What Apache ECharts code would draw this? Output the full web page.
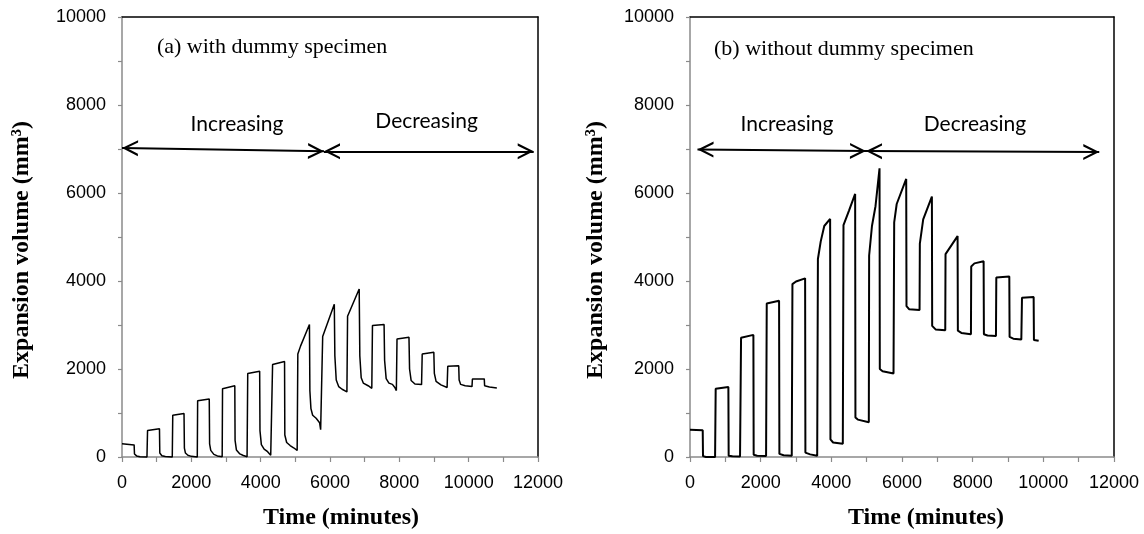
<!DOCTYPE html>
<html>
<head>
<meta charset="utf-8">
<script src="https://cdn.jsdelivr.net/npm/echarts@6/dist/echarts.min.js"></script>
<style>html,body{margin:0;padding:0;background:#fff}#c{width:1144px;height:534px}</style>
</head>
<body>
<div id="c"></div>
<script>
// ---- Data ----
var leftTime = [0,350,360,420,520,720, 737,1081,1090,1150,1250,1450, 1464,1789,1800,1830,1900,2000,2172,
  2182,2517,2527,2560,2650,2750,2890, 2900,3254,3262,3300,3400,3500,3608,
  3627,3971,3980,4020,4100,4200,4290,4325, 4344,4689,4697,4750,4850,4950,5053,
  5072,5150,5407,5420,5450,5500,5600,5700,5730,5770, 5789,6124,6140,6180,6250,6350,6488,
  6507,6842,6860,6900,6960,7100,7206, 7225,7560,7575,7620,7700,7800,7870,7914,
  7933,8278,8295,8340,8450,8641, 8660,8995,9010,9060,9200,9378,
  9397,9713,9725,9770,9900,10096, 10108,10450,10460,10600,10813];
var leftVolume = [300,275,70,25,8,0, 600,640,90,30,10,0, 950,990,200,90,40,15,0,
  1280,1320,300,150,60,25,5, 1550,1620,380,160,70,35,5,
  1900,1950,600,280,180,120,40,0, 2100,2170,500,330,260,210,150,
  2340,2520,3010,1500,1100,950,880,780,620,600, 2740,3472,2300,1750,1600,1540,1480,
  3200,3820,2300,1800,1680,1620,1560, 2990,3010,2200,1780,1680,1650,1580,1510,
  2680,2720,2000,1740,1660,1645, 2340,2380,1900,1720,1640,1580,
  2060,2075,1750,1650,1620,1600, 1771,1775,1620,1590,1570];

var rightTime = [0,360,368,450,710, 727,1086,1094,1200,1416, 1445,1794,1802,1900,2153,
  2172,2521,2530,2650,2880, 2899,3000,3258,3266,3400,3600,
  3620,3700,3800,3966,3975,4050,4325, 4344,4500,4674,4682,4750,5061,
  5070,5150,5250,5364,5372,5450,5760, 5779,5850,6119,6127,6200,6497,
  6505,6600,6846,6854,6950,7224, 7232,7573,7581,7680,7951,
  7959,8050,8310,8318,8420,8659, 8669,9037,9045,9150,9377, 9396,9726,9734,9868];
var rightVolume = [620,610,20,0,0, 1550,1590,30,15,10, 2710,2775,50,30,20,
  3490,3550,70,40,30, 3930,3990,4060,100,60,30,
  4500,4900,5250,5410,400,330,300, 5270,5600,5980,900,850,790,
  4580,5250,5700,6560,2000,1950,1900, 5330,5750,6320,3430,3360,3340,
  4850,5400,5920,2980,2900,2880, 4610,5020,2870,2820,2790,
  4330,4400,4450,2790,2760,2750, 4080,4100,2730,2690,2670, 3620,3635,2660,2640];

var xTicks = {min: 0, max: 12000, step: 1000, labelStep: 2000};
var yTicks = {min: 0, max: 10000, step: 1000, labelStep: 2000};

// annotation arrows in data coordinates: [x1,y1,x2,y2]
var leftArrows = [[0,7025,5827,6948],[5827,6948,11876,6948]];
var rightArrows = [[212,6991,4981,6952],[4981,6952,11583,6929]];

function pairs(xs, ys){ var o=[]; for(var i=0;i<xs.length;i++) o.push([xs[i], ys[i]]); return o; }

var chevron = 'path://M5,0 L5.01,0 L5,0.01 Z M5,10 L10,20 L8.5,20 L5,13 L1.5,20 L0,20 Z';

function arrowLines(arr){
  return arr.map(function(a){ return [{coord:[a[0],a[1]]},{coord:[a[2],a[3]]}]; });
}

var gray = '#8a8a8a';
var tickFont = '"Liberation Sans", Arial, sans-serif';
function xAxisMain(g){
  return {gridIndex:g, type:'value', min:xTicks.min, max:xTicks.max, interval:xTicks.step,
    axisLine:{show:true, onZero:false, lineStyle:{color:gray, width:1.5}},
    axisTick:{show:true, inside:false, length:5, lineStyle:{color:gray, width:1.2}},
    axisLabel:{color:'#000', fontFamily:tickFont, fontSize:18, margin:17,
      formatter:function(v){ return v % xTicks.labelStep === 0 ? String(v) : ''; }},
    splitLine:{show:false}};
}
function xAxisTop(g){
  return {gridIndex:g, type:'value', position:'top', min:xTicks.min, max:xTicks.max,
    axisLine:{show:true, onZero:false, lineStyle:{color:'#000', width:1.5}},
    axisTick:{show:false}, axisLabel:{show:false}, splitLine:{show:false}};
}
function yAxisMain(g){
  return {gridIndex:g, type:'value', min:yTicks.min, max:yTicks.max, interval:yTicks.step,
    axisLine:{show:true, onZero:false, lineStyle:{color:gray, width:1.5}},
    axisTick:{show:true, inside:false, length:4, lineStyle:{color:gray, width:1.2}},
    axisLabel:{color:'#000', fontFamily:tickFont, fontSize:18, margin:16,
      formatter:function(v){ return v % yTicks.labelStep === 0 ? String(v) : ''; }},
    splitLine:{show:false}};
}
function yAxisRight(g){
  return {gridIndex:g, type:'value', position:'right', min:yTicks.min, max:yTicks.max,
    axisLine:{show:true, onZero:false, lineStyle:{color:'#000', width:1.5}},
    axisTick:{show:false}, axisLabel:{show:false}, splitLine:{show:false}};
}

function dataSeries(xi, yi, xs, ys, w, arrows){
  return {type:'line', xAxisIndex:xi, yAxisIndex:yi, data:pairs(xs, ys), showSymbol:false, symbol:'none',
    lineStyle:{color:'#000', width:w}, silent:true, clip:false,
    markLine:{silent:true, symbol:[chevron, chevron], symbolSize:[16,32], precision:4,
      label:{show:false}, lineStyle:{color:'#000', width:2, type:'solid'},
      emphasis:{disabled:true}, data:arrowLines(arrows)}};
}

var chart = echarts.init(document.getElementById('c'), null, {renderer:'canvas'});
chart.setOption({
  animation:false,
  backgroundColor:'#fff',
  grid:[{left:122, top:17, width:416, height:440}, {left:690, top:17, width:424, height:440}],
  xAxis:[xAxisMain(0), xAxisTop(0), xAxisMain(1), xAxisTop(1)],
  yAxis:[yAxisMain(0), yAxisRight(0), yAxisMain(1), yAxisRight(1)],
  series:[dataSeries(0,0,leftTime,leftVolume,1.5,leftArrows), dataSeries(2,2,rightTime,rightVolume,2,rightArrows)]
});

function px(g, x, y){ return chart.convertToPixel({xAxisIndex:g*2, yAxisIndex:g*2}, [x, y]); }
var serif = '"Liberation Serif", "Times New Roman", serif';
var sans = 'Lato, Carlito, Calibri, sans-serif';
function txt(p, s, font, size, weight, align, rot){
  return {type:'text', x:p[0], y:p[1], rotation:rot||0, silent:true,
    style:{text:s, fill:'#000', font: (weight||'normal') + ' ' + size + 'px ' + font, textAlign:align||'center', textVerticalAlign:'middle'}};
}
chart.setOption({graphic:[
  txt(px(0,1008,9305), '(a) with dummy specimen', serif, 22, 'normal', 'left'),
  txt(px(1,679,9266), '(b) without dummy specimen', serif, 22, 'normal', 'left'),
  txt(px(0,3316,7570), 'Increasing', sans, 21),
  txt(px(0,8786,7622), 'Decreasing', sans, 21),
  txt(px(1,2745,7570), 'Increasing', sans, 21),
  txt(px(1,8066,7570), 'Decreasing', sans, 21),
  txt([341,518], 'Time (minutes)', serif, 24, 'bold'),
  txt([926,518], 'Time (minutes)', serif, 24, 'bold'),
  txt([22,250], 'Expansion volume (mm³)', serif, 24, 'bold', 'center', Math.PI/2),
  txt([596,250], 'Expansion volume (mm³)', serif, 24, 'bold', 'center', Math.PI/2)
]});
</script>
</body>
</html>
